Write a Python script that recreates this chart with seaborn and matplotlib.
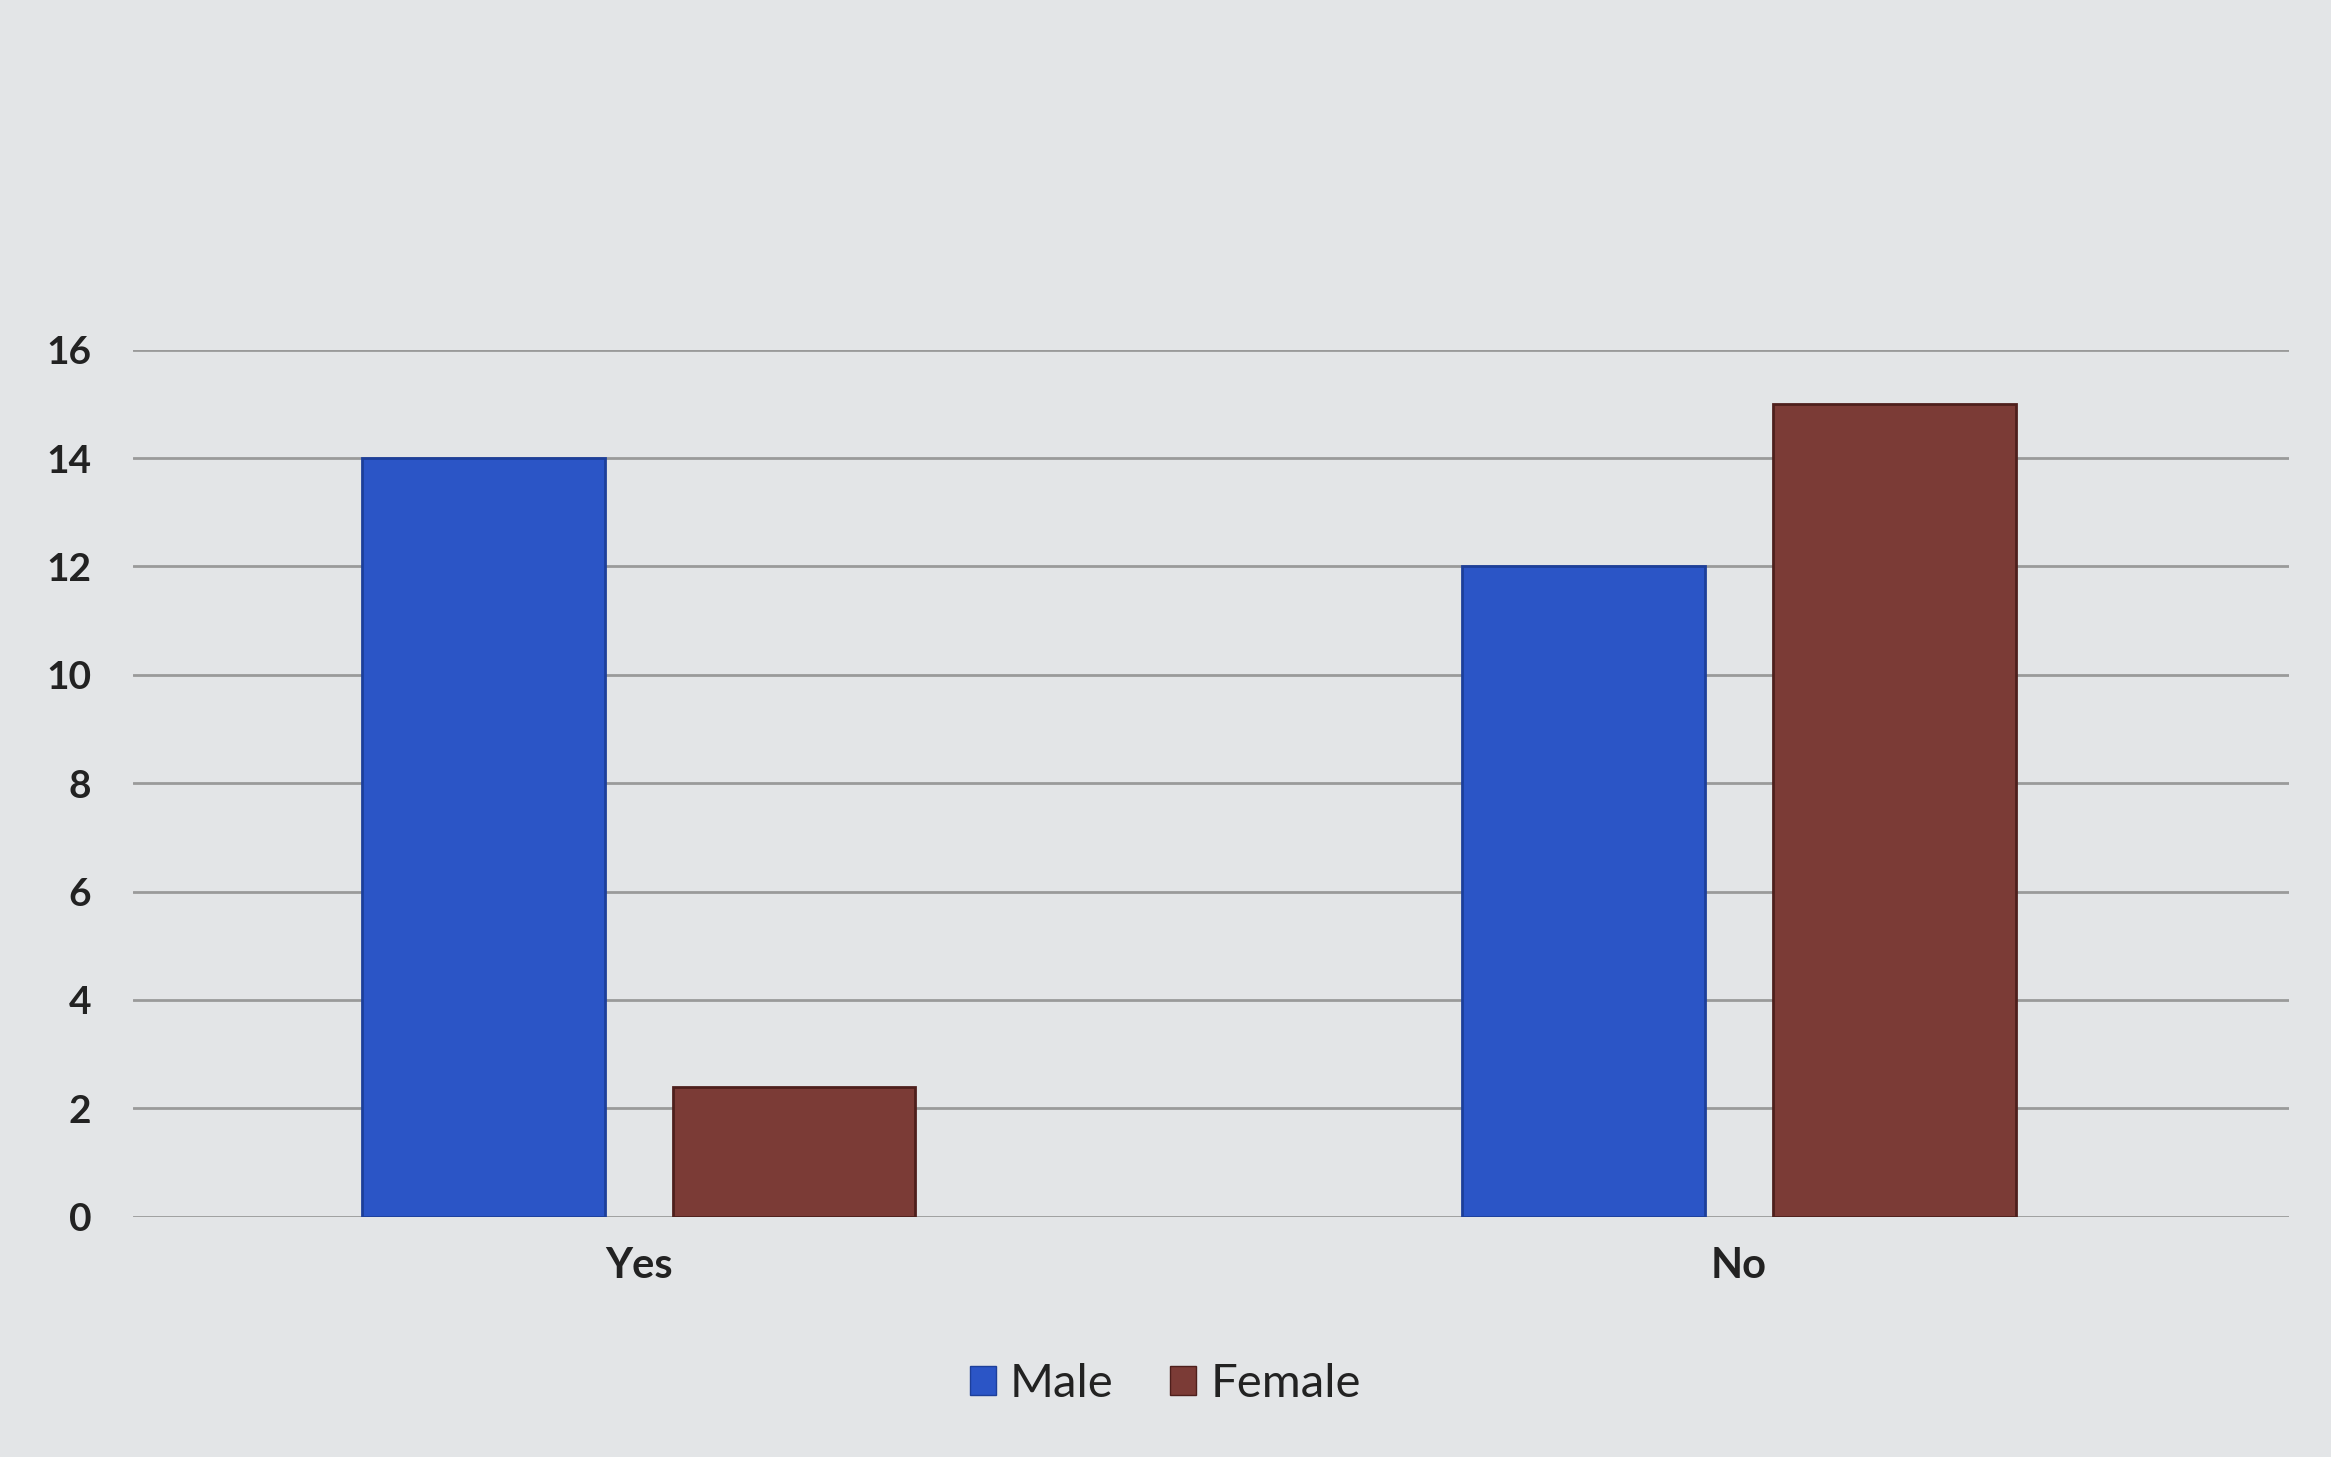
import matplotlib
matplotlib.use("Agg")
import matplotlib.pyplot as plt
import seaborn as sns
import pandas as pd
from matplotlib.patches import Patch

categories = ["Yes", "No"]
genders = ["Male", "Female"]
male_values = [14, 12]
female_values = [2.4, 15]
yticks = [0, 2, 4, 6, 8, 10, 12, 14, 16]

df = pd.DataFrame({
    "Answer": categories * 2,
    "Gender": ["Male"] * len(categories) + ["Female"] * len(categories),
    "Count": male_values + female_values,
})

sns.set_theme(style="white")
plt.rcParams["font.family"] = ["Lato", "DejaVu Sans"]

bg = "#e3e5e7"
fig = plt.figure(figsize=(23.31, 14.57), dpi=100, facecolor=bg)
ax = fig.add_axes([0.057, 0.165, 0.925, 0.595])
ax.set_facecolor(bg)

palette = {"Male": "#2b55c6", "Female": "#7b3b36"}
edges = {"Male": "#1d3f9a", "Female": "#4e1f1c"}
sns.barplot(data=df, x="Answer", y="Count", hue="Gender", order=categories,
            hue_order=genders, palette=palette, width=0.565, gap=0.22,
            saturation=1, ax=ax, legend=False, zorder=3)
for cont, g in zip(ax.containers, genders):
    for p in cont:
        p.set_edgecolor(edges[g])
        p.set_linewidth(2)

ax.set_xlim(-0.46, 1.50)
ax.set_ylim(0, 16)
ax.set_yticks(yticks)
ax.set_yticklabels([str(t) for t in yticks], fontsize=28, color="#222222",
                   fontweight="bold")
ax.yaxis.grid(True, color="#9a9a9a", linewidth=2, zorder=0)
ax.set_axisbelow(True)
ax.tick_params(axis="x", labelsize=30, colors="#222222", length=0, pad=22)
for lbl in ax.get_xticklabels():
    lbl.set_fontweight("bold")
ax.tick_params(axis="y", length=0, pad=30)
ax.set_xlabel("")
ax.set_ylabel("")
for s in ax.spines.values():
    s.set_visible(False)

handles = [Patch(facecolor=palette[g], edgecolor=edges[g], label=g) for g in genders]
leg = fig.legend(handles=handles, loc="center", bbox_to_anchor=(0.5, 0.05), ncol=2,
                 frameon=False, fontsize=34, handlelength=0.55, handleheight=0.55,
                 handletextpad=0.3, columnspacing=1.2)
for t in leg.get_texts():
    t.set_color("#222222")

fig.savefig("out.png", dpi=100, facecolor=bg)
